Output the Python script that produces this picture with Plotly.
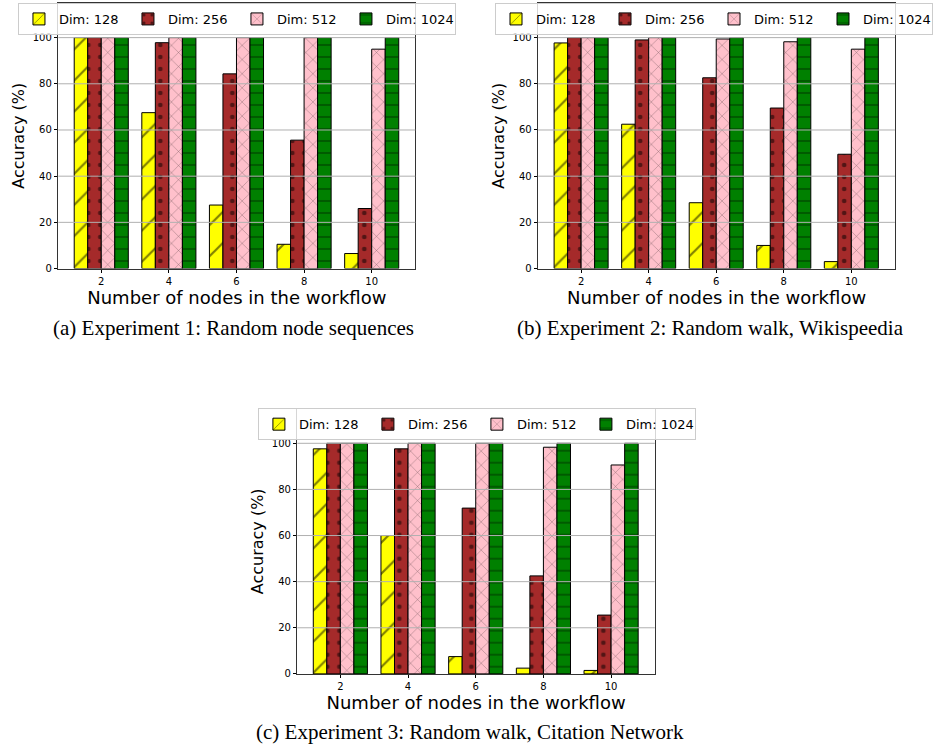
import plotly.graph_objects as go

nodes = [2, 4, 6, 8, 10]
series_names = ["Dim: 128", "Dim: 256", "Dim: 512", "Dim: 1024"]

# Experiment 1: Random node sequences
exp1_128 = [100, 67.5, 27.5, 10.5, 6.5]
exp1_256 = [100, 97.8, 84.3, 55.6, 26.0]
exp1_512 = [100, 100, 100, 100, 95.0]
exp1_1024 = [100, 100, 100, 100, 100]

# Experiment 2: Random walk, Wikispeedia
exp2_128 = [97.7, 62.5, 28.5, 10.0, 3.0]
exp2_256 = [100, 99.0, 82.6, 69.5, 49.5]
exp2_512 = [100, 100, 99.4, 98.2, 95.0]
exp2_1024 = [100, 100, 100, 100, 100]

# Experiment 3: Random walk, Citation Network
exp3_128 = [97.6, 60.0, 7.5, 2.5, 1.5]
exp3_256 = [100, 97.6, 71.9, 42.5, 25.5]
exp3_512 = [100, 100, 100, 98.3, 90.6]
exp3_1024 = [100, 100, 100, 100, 100]

y_ticks = [0, 20, 40, 60, 80, 100]
captions = [
    "(a) Experiment 1: Random node sequences",
    "(b) Experiment 2: Random walk, Wikispeedia",
    "(c) Experiment 3: Random walk, Citation Network",
]

colors = ["#ffff00", "#a52a2a", "#ffc0cb", "#008000"]
patterns = [
    dict(shape="/", size=22, solidity=0.1, fgcolor="black"),
    dict(shape=".", size=12, solidity=0.12, fgcolor="black"),
    dict(shape="x", size=10, solidity=0.08, fgcolor="black"),
    dict(shape="-", size=12, solidity=0.1, fgcolor="black"),
]

W, H = 933, 753
panels = [
    dict(data=[exp1_128, exp1_256, exp1_512, exp1_1024],
         x0=58.7, x1=418.0, y0=3.0, y1=270.7, legx=238.5, legy=3.0),
    dict(data=[exp2_128, exp2_256, exp2_512, exp2_1024],
         x0=541.7, x1=900.7, y0=3.0, y1=270.7, legx=719.0, legy=3.0),
    dict(data=[exp3_128, exp3_256, exp3_512, exp3_1024],
         x0=299.3, x1=659.0, y0=412.0, y1=679.3, legx=480.0, legy=411.5),
]
cap_pos = [(235, 331), (715, 331), (473, 738)]

FONT = "DejaVu Sans"
fig = go.Figure()
layout = dict(
    width=W, height=H, margin=dict(l=0, r=0, t=0, b=0),
    paper_bgcolor="white", plot_bgcolor="white",
    barmode="group", bargap=0.2, bargroupgap=0,
    font=dict(family=FONT, color="black"),
    shapes=[], annotations=[],
)

for i, p in enumerate(panels):
    sfx = "" if i == 0 else str(i + 1)
    xa, ya = "x" + sfx, "y" + sfx
    leg = "legend" + sfx
    for k, vals in enumerate(p["data"]):
        fig.add_trace(go.Bar(
            x=nodes, y=vals, name=series_names[k],
            xaxis=xa, yaxis=ya, legend=leg, offsetgroup=str(k),
            marker=dict(color=colors[k], line=dict(color="black", width=1),
                        pattern=patterns[k]),
        ))
    layout["xaxis" + sfx] = dict(
        domain=[p["x0"] / W, p["x1"] / W], anchor=ya,
        range=[0.73, 11.29], tickvals=nodes, ticks="outside", ticklen=3.5,
        tickcolor="black", tickfont=dict(size=10, family=FONT),
        showgrid=False, zeroline=False, showline=True, mirror=True,
        linecolor="#333333", linewidth=1,
        title=dict(text="Number of nodes in the workflow",
                   font=dict(size=18, family=FONT), standoff=4),
    )
    layout["yaxis" + sfx] = dict(
        domain=[1 - p["y1"] / H, 1 - p["y0"] / H], anchor=xa,
        range=[0, 115], tickvals=y_ticks, ticks="outside", ticklen=3.5,
        tickcolor="black", tickfont=dict(size=10, family=FONT),
        showgrid=False, zeroline=False, showline=True, mirror=True,
        linecolor="#333333", linewidth=1,
        title=dict(text="Accuracy (%)", font=dict(size=16, family=FONT),
                   standoff=4),
    )
    for t in y_ticks[1:]:
        layout["shapes"].append(dict(
            type="line", xref=xa + " domain", yref=ya, x0=0, x1=1, y0=t, y1=t,
            line=dict(color="#b0b0b0", width=1), layer="above"))
    layout[leg] = dict(
        orientation="h", x=p["legx"] / W, xanchor="center",
        y=1 - p["legy"] / H, yanchor="top",
        bgcolor="rgba(255,255,255,0.8)", bordercolor="#cccccc", borderwidth=1,
        font=dict(size=13, family=FONT), entrywidth=64, entrywidthmode="pixels",
        itemwidth=30,
    )
    cx, cy = cap_pos[i]
    layout["annotations"].append(dict(
        text=captions[i], xref="paper", yref="paper", x=cx / W, y=1 - cy / H,
        xanchor="center", yanchor="middle", showarrow=False,
        font=dict(size=21, family="Liberation Serif", color="black")))

fig.update_layout(**layout)
fig.write_html("out.html", config={"displayModeBar": False},
               post_script="document.body.style.margin='0px';document.body.style.overflow='hidden';")
